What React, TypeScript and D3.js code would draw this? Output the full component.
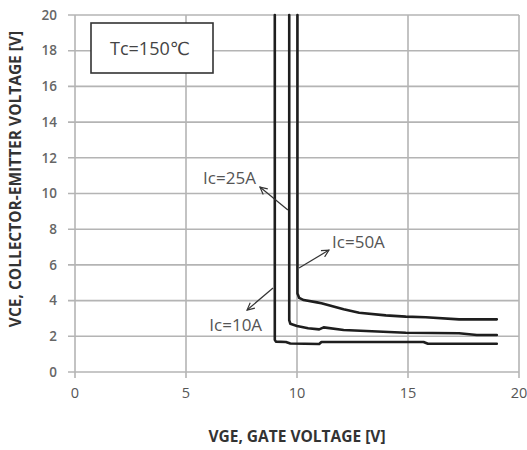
import { useMemo } from 'react';
import * as d3 from 'd3';

// Ic = 10A
const vge10 = [9.0, 9.0, 9.05, 9.5, 9.7, 11.0, 11.1, 15.7, 15.9, 19.0];
const vce10 = [20, 1.8, 1.7, 1.68, 1.6, 1.57, 1.68, 1.68, 1.58, 1.58];
// Ic = 25A
const vge25 = [9.65, 9.65, 9.7, 10.0, 10.5, 11.0, 11.2, 12.1, 14.9, 17.3, 18.1, 19.0];
const vce25 = [20, 2.9, 2.7, 2.58, 2.45, 2.39, 2.5, 2.35, 2.2, 2.17, 2.07, 2.07];
// Ic = 50A
const vge50 = [10.02, 10.02, 10.1, 10.3, 10.9, 11.1, 12.1, 12.8, 14.0, 14.9, 15.8, 17.3, 19.0];
const vce50 = [20, 4.4, 4.15, 4.03, 3.9, 3.85, 3.51, 3.32, 3.17, 3.1, 3.07, 2.95, 2.95];

const xTicks = [0, 5, 10, 15, 20];
const yTicks = [0, 2, 4, 6, 8, 10, 12, 14, 16, 18, 20];

// label text, label anchor (x, y), arrow from (x, y) to (x, y)
const labels = ['Ic=25A', 'Ic=50A', 'Ic=10A'];
const labelPos: [number, number][] = [[5.77, 10.55], [11.58, 6.95], [6.05, 2.3]];
const arrowFrom: [number, number][] = [[9.59, 9.08], [10.09, 5.83], [8.92, 4.71]];
const arrowTo: [number, number][] = [[8.33, 10.36], [11.44, 6.83], [7.75, 3.47]];

const W = 527;
const H = 450;
const M = { top: 15, right: 8, bottom: 78, left: 75 };
const FONT = '"Open Sans", "DejaVu Sans", sans-serif';

export default function App() {
  const x = d3.scaleLinear().domain([0, 20]).range([M.left, W - M.right]);
  const y = d3.scaleLinear().domain([0, 20]).range([H - M.bottom, M.top]);

  const paths = useMemo(() => {
    const line = d3.line<[number, number]>().x((d) => x(d[0])).y((d) => y(d[1]));
    return [
      line(vge10.map((v, i) => [v, vce10[i]])),
      line(vge25.map((v, i) => [v, vce25[i]])),
      line(vge50.map((v, i) => [v, vce50[i]])),
    ];
  }, []);

  return (
    <div style={{ position: 'absolute', left: 0, top: 0 }}>
      <svg width={W} height={H} style={{ display: 'block', background: '#fff' }}>
        <defs>
          <marker id="arr" viewBox="0 0 10 10" refX="9" refY="5" markerWidth="9" markerHeight="9"
            orient="auto" markerUnits="userSpaceOnUse">
            <path d="M1,1 L9,5 L1,9" fill="none" stroke="#333" strokeWidth={1.3} />
          </marker>
        </defs>

        {/* grid */}
        {yTicks.map((t) => (
          <line key={'gy' + t} x1={x(0) - 7} x2={x(20)} y1={y(t)} y2={y(t)}
            stroke="#b4b4b4" strokeWidth={1.6} />
        ))}
        {xTicks.map((t) => (
          <line key={'gx' + t} x1={x(t)} x2={x(t)} y1={y(20)} y2={y(0) + 6}
            stroke="#b4b4b4" strokeWidth={1.6} />
        ))}

        {/* tick labels */}
        {yTicks.map((t) => (
          <text key={'ly' + t} x={57} y={y(t)} dy="0.35em" textAnchor="end"
            fontFamily={FONT} fontSize={13.5} fontWeight={600} fill="#666">{t}</text>
        ))}
        {xTicks.map((t) => (
          <text key={'lx' + t} x={x(t)} y={y(0) + 26} textAnchor="middle"
            fontFamily={FONT} fontSize={14.5} fill="#555">{t}</text>
        ))}

        {/* axis titles */}
        <text x={x(10)} y={442} textAnchor="middle" fontFamily={FONT} fontSize={15.5}
          fontWeight={700} fill="#333">VGE, GATE VOLTAGE [V]</text>
        <text transform="translate(21, 179) rotate(-90)"
          textAnchor="middle" fontFamily={FONT} fontSize={15.5} fontWeight={700}
          fill="#333">VCE, COLLECTOR-EMITTER VOLTAGE [V]</text>

        {/* Tc box */}
        <rect x={91} y={23} width={122} height={50} fill="#fff" stroke="#333" strokeWidth={1.6} />
        <text x={150} y={55} textAnchor="middle" fontFamily={FONT} fontSize={18} fill="#444">
          Tc=150℃
        </text>

        {/* curves */}
        {paths.map((d, i) => (
          <path key={'c' + i} d={d ?? ''} fill="none" stroke="#1e1e1e" strokeWidth={2.6}
            strokeLinejoin="round" strokeLinecap="round" />
        ))}

        {/* annotations */}
        {labels.map((l, i) => (
          <g key={'a' + i}>
            <line x1={x(arrowFrom[i][0])} y1={y(arrowFrom[i][1])}
              x2={x(arrowTo[i][0])} y2={y(arrowTo[i][1])}
              stroke="#333" strokeWidth={1.2} markerEnd="url(#arr)" />
            <text x={x(labelPos[i][0])} y={y(labelPos[i][1])} fontFamily={FONT}
              fontSize={17} fill="#555">{l}</text>
          </g>
        ))}
      </svg>
    </div>
  );
}
